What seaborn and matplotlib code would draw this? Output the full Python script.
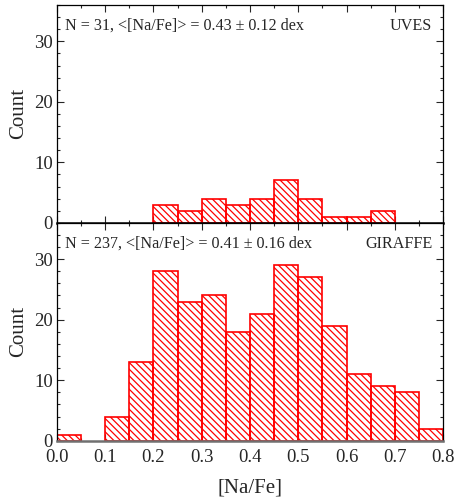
import numpy as np
import matplotlib
matplotlib.use("Agg")
import matplotlib.pyplot as plt
import seaborn as sns

bin_edges = [0.00, 0.05, 0.10, 0.15, 0.20, 0.25, 0.30, 0.35, 0.40, 0.45, 0.50,
             0.55, 0.60, 0.65, 0.70, 0.75, 0.80]
uves_counts = [0, 0, 0, 0, 3, 2, 4, 3, 4, 7, 4, 1, 1, 2, 0, 0]
giraffe_counts = [1, 0, 4, 13, 28, 23, 24, 18, 21, 29, 27, 19, 11, 9, 8, 2]
uves_label = "N = 31, <[Na/Fe]> = 0.43 ± 0.12 dex"
giraffe_label = "N = 237, <[Na/Fe]> = 0.41 ± 0.16 dex"
panel_names = ["UVES", "GIRAFFE"]
x_ticks = [0.0, 0.1, 0.2, 0.3, 0.4, 0.5, 0.6, 0.7, 0.8]
y_ticks = [0, 10, 20, 30]

sns.set_style("ticks")
plt.rcParams['font.family'] = ['Liberation Serif', 'DejaVu Serif']
plt.rcParams['hatch.color'] = 'red'
plt.rcParams['hatch.linewidth'] = 0.9

fig, axes = plt.subplots(2, 1, figsize=(4.55, 4.98), dpi=100, sharex=True)
fig.subplots_adjust(left=0.125, right=0.974, top=0.99, bottom=0.115, hspace=0)

centers = [(bin_edges[i] + bin_edges[i + 1]) / 2 for i in range(len(bin_edges) - 1)]
for ax, counts, label, name in zip(axes, [uves_counts, giraffe_counts],
                                   [uves_label, giraffe_label], panel_names):
    sns.histplot(x=centers, weights=counts, bins=bin_edges, ax=ax,
                 fill=True, facecolor='none', edgecolor='red', linewidth=1.2,
                 hatch='\\\\\\\\\\')
    for p in list(ax.patches):
        if p.get_height() == 0:
            p.remove()
    ax.set_xlim(0, 0.8)
    ax.set_ylim(0, 36)
    ax.set_yticks(y_ticks)
    ax.set_xticks(x_ticks)
    ax.xaxis.set_minor_locator(matplotlib.ticker.MultipleLocator(0.05))
    ax.yaxis.set_minor_locator(matplotlib.ticker.MultipleLocator(2))
    ax.tick_params(which='both', direction='in', top=True, right=True,
                   labelsize=13.5, width=0.8)
    ax.tick_params(axis='y', pad=3)
    ax.tick_params(axis='x', pad=6)
    ax.tick_params(which='major', length=5)
    ax.tick_params(which='minor', length=2.5)
    ax.set_ylabel("Count", fontsize=15, labelpad=4)
    for s in ax.spines.values():
        s.set_linewidth(0.9)
        s.set_color('black')
        s.set_zorder(5)
    ax.text(0.02, 0.94, label, transform=ax.transAxes, ha='left', va='top', fontsize=11.6)
    ax.text(0.972, 0.94, name, transform=ax.transAxes, ha='right', va='top', fontsize=11.6)

axes[0].spines['bottom'].set_linewidth(1.8)
axes[1].spines['bottom'].set_linewidth(1.8)
axes[1].spines['bottom'].set_color('#707070')
axes[1].set_xlabel("[Na/Fe]", fontsize=15, labelpad=9)
axes[1].xaxis.set_major_formatter(matplotlib.ticker.FormatStrFormatter('%.1f'))

fig.savefig("out.png", dpi=100)
